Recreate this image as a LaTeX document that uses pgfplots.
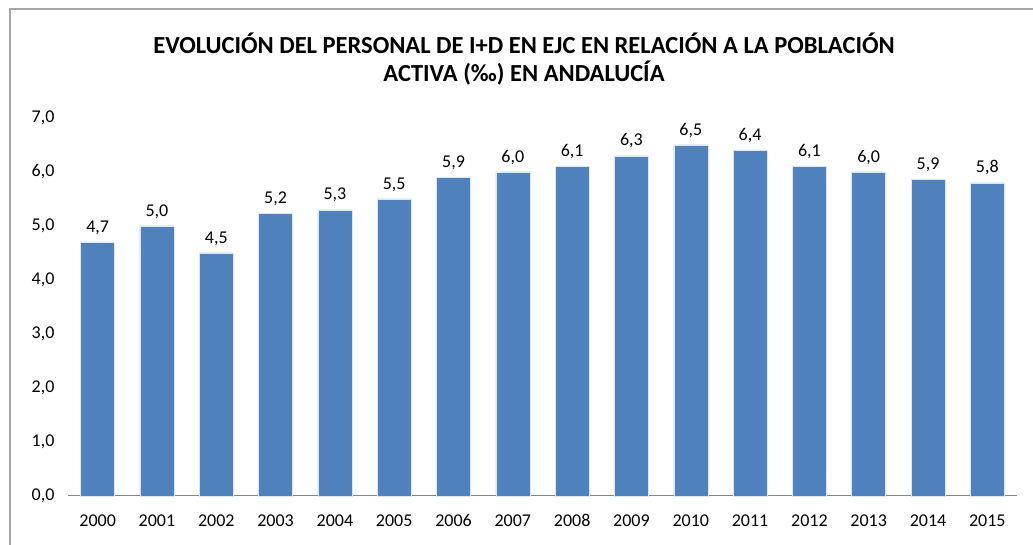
\documentclass[border=0pt]{standalone}
\usepackage{pgfplots}
\pgfplotsset{compat=1.18}
\usepackage{fontspec}
\setmainfont{Carlito}
\definecolor{barblue}{HTML}{4F81BD}
\definecolor{framegray}{HTML}{A6A6A6}
\definecolor{axisgray}{HTML}{868686}

\begin{document}
\begin{tikzpicture}
\useasboundingbox (-68pt,-49pt) rectangle (965pt,496pt);
% chart border (cropped at right and bottom)
\draw[framegray,line width=1.2pt] (-58pt,-49pt) -- (-58pt,487pt) -- (965pt,487pt);
\begin{axis}[
    at={(0pt,0pt)}, anchor=south west,
    scale only axis,
    width=949pt, height=378pt,
    ybar, bar width=34pt,
    xmin=1999.5, xmax=2015.5,
    ymin=0, ymax=7,
    xtick=data,
    ytick={0,1,...,7},
    axis x line*=bottom,
    axis y line*=left,
    y axis line style={draw=none},
    x axis line style={axisgray,line width=1pt,-},
    xtick style={draw=none},
    ytick style={draw=none},
    tick label style={font=\fontsize{18}{21}\selectfont},
    xticklabel style={/pgf/number format/1000 sep={}, /pgf/number format/assume math mode=true,
        text height=12pt, text depth=0pt, yshift=-11pt},
    yticklabel style={/pgf/number format/.cd, fixed, fixed zerofill, precision=1, use comma, assume math mode=true, /tikz/xshift=-10pt},
    nodes near coords={\pgfmathprintnumber[fixed,fixed zerofill,precision=1,use comma,assume math mode=true]{\pgfplotspointmeta}},
    every node near coord/.append style={font=\fontsize{18}{21}\selectfont, yshift=4pt},
    clip=false,
]
\addplot[fill=barblue, draw=white!80!barblue, line width=0.5pt] coordinates {
  (2000,4.7)(2001,5.0)(2002,4.5)(2003,5.24)(2004,5.3)(2005,5.5)(2006,5.9)(2007,6.0)
  (2008,6.1)(2009,6.3)(2010,6.5)(2011,6.4)(2012,6.1)(2013,6.0)(2014,5.86)(2015,5.8)
};
\end{axis}
% title
\node[font=\fontsize{24.5}{28}\selectfont\bfseries, align=center, anchor=center] at (456pt,437pt)
  {EVOLUCIÓN DEL PERSONAL DE I+D EN EJC EN RELACIÓN A LA POBLACIÓN\\ACTIVA (‰) EN ANDALUCÍA};
\end{tikzpicture}
\end{document}
